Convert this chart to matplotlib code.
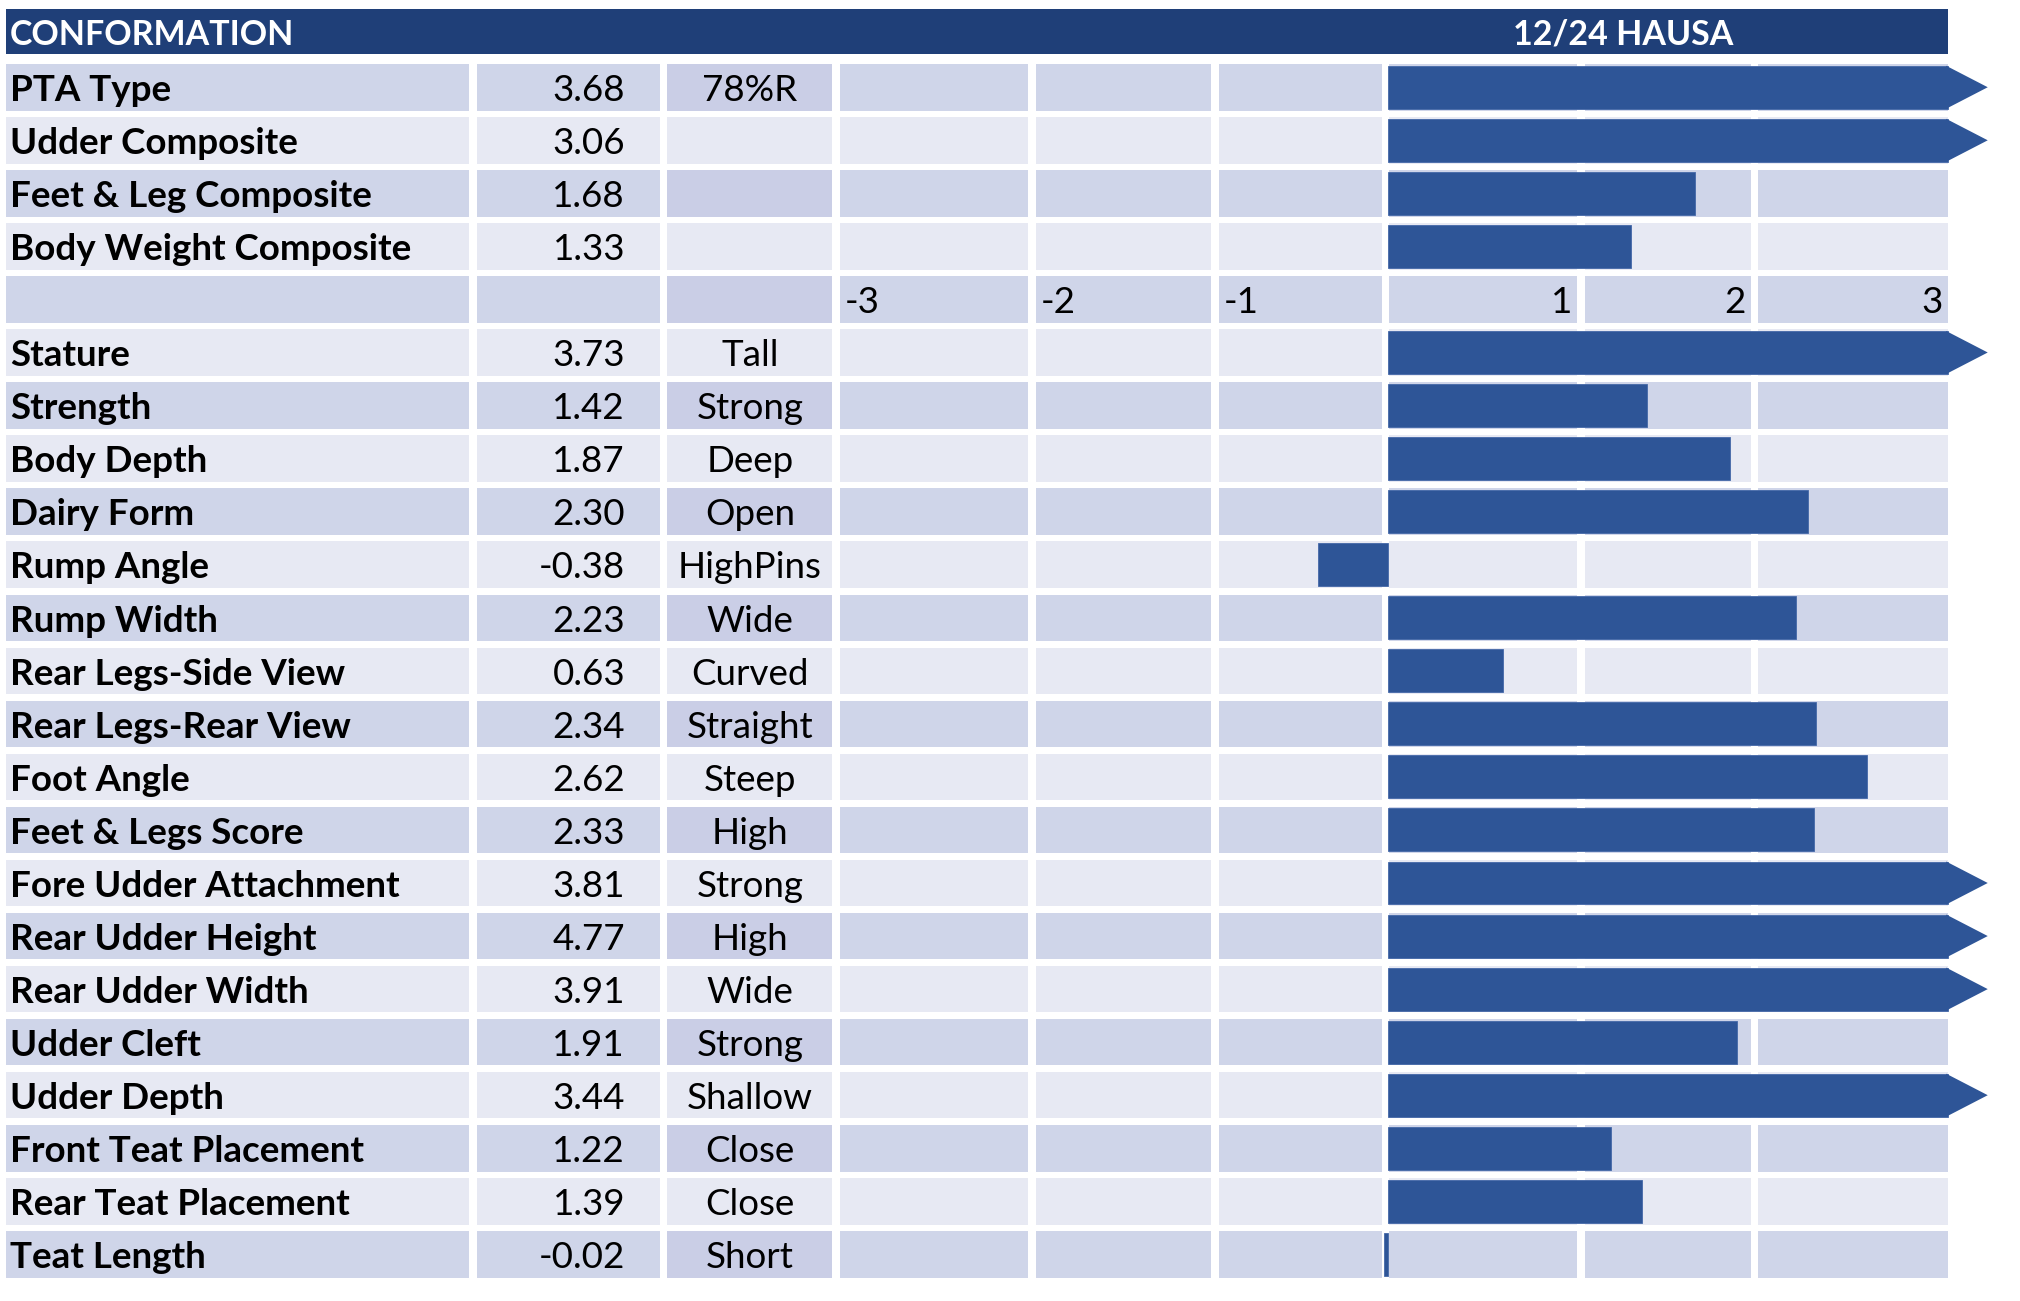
import matplotlib
matplotlib.use("Agg")
import matplotlib.pyplot as plt
from matplotlib.patches import Rectangle

plt.rcParams['font.family'] = ['Lato', 'DejaVu Sans']

# data
title_left = "CONFORMATION"
title_right = "12/24 HAUSA"

composite_traits = ["PTA Type", "Udder Composite", "Feet & Leg Composite", "Body Weight Composite"]
composite_values = [3.68, 3.06, 1.68, 1.33]
composite_notes = ["78%R", "", "", ""]

linear_traits = ["Stature", "Strength", "Body Depth", "Dairy Form", "Rump Angle", "Rump Width",
                 "Rear Legs-Side View", "Rear Legs-Rear View", "Foot Angle", "Feet & Legs Score",
                 "Fore Udder Attachment", "Rear Udder Height", "Rear Udder Width", "Udder Cleft",
                 "Udder Depth", "Front Teat Placement", "Rear Teat Placement", "Teat Length"]
linear_values = [3.73, 1.42, 1.87, 2.30, -0.38, 2.23, 0.63, 2.34, 2.62, 2.33,
                 3.81, 4.77, 3.91, 1.91, 3.44, 1.22, 1.39, -0.02]
linear_notes = ["Tall", "Strong", "Deep", "Open", "HighPins", "Wide", "Curved", "Straight", "Steep",
                "High", "Strong", "High", "Wide", "Strong", "Shallow", "Close", "Close", "Short"]

scale_ticks = [-3, -2, -1, 1, 2, 3]

# rows: composites, a scale row, then linear traits
traits = composite_traits + [""] + linear_traits
values = composite_values + [None] + linear_values
notes = composite_notes + [""] + linear_notes
scale_row = len(composite_traits)

W, H = 2020, 1301
fig = plt.figure(figsize=(W / 100, H / 100), dpi=100)

# background table in pixel coords
bg = fig.add_axes([0, 0, 1, 1])
bg.set_xlim(0, W)
bg.set_ylim(H, 0)
bg.axis('off')

header_col = "#1F3F78"
bar_col = "#2E5597"
dark = "#CFD5E9"
light = "#E7E9F3"
note_dark = "#CACEE6"

cols = [(6, 469), (477, 660), (667, 832), (840, 1028), (1036, 1211),
        (1219, 1382), (1389, 1577), (1585, 1751), (1758, 1948)]
top0 = 64
pitch = 53.05
cell_h = 46.5
fs = 26.5
head_fs = 24.5

bg.add_patch(Rectangle((6, 9), 1942, 45, color=header_col, lw=0))
bg.text(10, 45, title_left, color="white", fontsize=head_fs, fontweight="bold", va="baseline")
bg.text(1623, 45, title_right, color="white", fontsize=head_fs, fontweight="bold", va="baseline", ha="center")

for r in range(len(traits)):
    y0 = top0 + r * pitch
    c = dark if r % 2 == 0 else light
    for i, (x0, x1) in enumerate(cols):
        cc = note_dark if (i == 2 and r % 2 == 0) else c
        bg.add_patch(Rectangle((x0, y0), x1 - x0, cell_h, color=cc, lw=0))
    base = y0 + 37
    if r == scale_row:
        for t, (x0, x1) in zip(scale_ticks, cols[3:]):
            if t < 0:
                bg.text(x0 + 5, base, str(t), fontsize=fs, va="baseline", ha="left")
            else:
                bg.text(x1 - 5, base, str(t), fontsize=fs, va="baseline", ha="right")
        continue
    bg.text(10, base, traits[r], fontsize=fs, fontweight="bold", va="baseline")
    bg.text(625, base, f"{values[r]:.2f}", fontsize=fs, va="baseline", ha="right")
    if notes[r]:
        bg.text(750, base, notes[r], fontsize=fs, va="baseline", ha="center")

# bars in value units: zero at 1387.5 px, 183 px per point
zero_px, unit_px = 1387.5, 183.0
ax = fig.add_axes([0, 0, 1, 1])
ax.patch.set_alpha(0)
ax.axis('off')
ax.set_xlim(-zero_px / unit_px, (W - zero_px) / unit_px)
cy0 = top0 + cell_h / 2
ax.set_ylim((H - cy0) / pitch, -cy0 / pitch)

limit = 3.0      # values past the scale get an arrow head
body_end = 3.063
tip = 3.28
bh = 0.81
rows = [r for r in range(len(values)) if values[r] is not None]
vals = [values[r] for r in rows]
shown = [body_end if v > limit else v for v in vals]
ax.barh(rows, shown, height=bh, color=bar_col, edgecolor="#4468A8", lw=0.6)
for r, v in zip(rows, vals):
    if v > limit:
        ax.fill([body_end - 0.01, tip, body_end - 0.01], [r - bh / 2, r, r + bh / 2], color=bar_col, lw=0)

fig.savefig("out.png", dpi=100, facecolor="white")
